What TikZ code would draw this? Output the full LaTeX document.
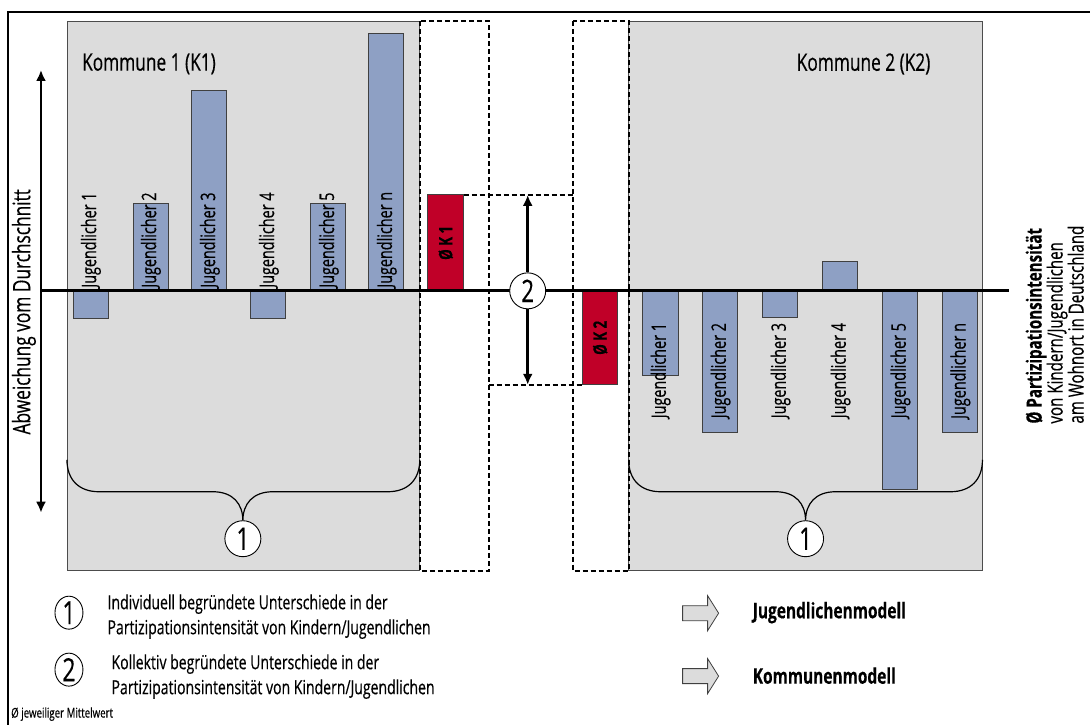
\documentclass[tikz,border=0pt]{standalone}
\usepackage{fontspec}
\setmainfont{Open Sans}[FakeStretch=0.72,FakeBold=0.4]
\usetikzlibrary{arrows.meta}
\usetikzlibrary{positioning}
\usetikzlibrary{shapes.geometric}

\definecolor{boxgray}{RGB}{220,220,220}
\definecolor{barblue}{RGB}{142,160,196}
\definecolor{barred}{RGB}{192,0,40}

\begin{document}
\begin{tikzpicture}[x=1pt,y=-1pt,
	kommune/.style={draw=black!70,fill=boxgray,line width=0.8pt},
	rahmen/.style={draw=black,line width=2pt,dash pattern=on 5pt off 3pt},
	balken/.style={draw=black!75,fill=barblue,line width=0.8pt},
	mittel/.style={draw=black!75,fill=barred,line width=0.8pt},
	jug/.style={rotate=90,inner sep=0pt,font=\fontsize{20}{22}\selectfont},
	mlabel/.style={rotate=90,inner sep=0pt,font=\fontsize{18.5}{20}\selectfont\bfseries},
	titel/.style={anchor=west,inner sep=0pt,font=\fontsize{24}{28}\selectfont},
	nummer/.style={circle,draw,fill=white,line width=0.9pt,minimum size=36pt,inner sep=0pt,font=\fontsize{31}{31}\selectfont},
	legnum/.style={ellipse,draw,fill=white,line width=0.9pt,minimum width=28pt,minimum height=33pt,inner sep=0pt,font=\fontsize{32}{32}\selectfont},
	legtext/.style={anchor=west,align=left,inner sep=0pt,font=\fontsize{19.5}{25}\selectfont},
	pfeil/.style={line width=2.5pt,-{Latex[length=11pt,width=10pt]}},
	klammer/.style={draw=black,line width=1.2pt},
	modell/.style={draw=black!75,fill=boxgray,line width=0.8pt}]

	% frame
	\draw[line width=1.2pt] (8,725) -- (8,12) -- (1091,12);
	\useasboundingbox (0,0) rectangle (1091,725);

	% Kommunen
	\draw[kommune] (67,21) rectangle (420,571);
	\draw[kommune] (629,21) rectangle (983,571);
	\draw[rahmen] (420,21) rectangle (489,571);
	\draw[rahmen] (573,21) rectangle (629,571);
	\draw[rahmen] (464,195) -- (573,195);
	\draw[rahmen] (489,385) -- (583,385);

	\node[titel] (T1) at (82,64) {Kommune 1 (K1)};
	\node[titel] (T2) at (797,64) {Kommune 2 (K2)};

	% Jugendliche K1
	\draw[balken] (73,291) rectangle (108,319);
	\draw[balken] (133,204) rectangle (168,291);
	\draw[balken] (192,90) rectangle (227,291);
	\draw[balken] (251,291) rectangle (286,319);
	\draw[balken] (311,204) rectangle (346,291);
	\draw[balken] (369,33) rectangle (404,291);
	\node[jug,anchor=west] (a1) at (91,288) {Jugendlicher 1};
	\node[jug,anchor=west] (a2) at (151,288) {Jugendlicher 2};
	\node[jug,anchor=west] (a3) at (210,288) {Jugendlicher 3};
	\node[jug,anchor=west] (a4) at (269,288) {Jugendlicher 4};
	\node[jug,anchor=west] (a5) at (329,288) {Jugendlicher 5};
	\node[jug,anchor=west] (an) at (387,288) {Jugendlicher n};

	% Jugendliche K2
	\draw[balken] (643,291) rectangle (679,376);
	\draw[balken] (703,291) rectangle (738,433);
	\draw[balken] (763,291) rectangle (798,318);
	\draw[balken] (823,262) rectangle (858,291);
	\draw[balken] (883,291) rectangle (918,490);
	\draw[balken] (943,291) rectangle (978,433);
	\node[jug,anchor=east] (b1) at (661,323) {Jugendlicher 1};
	\node[jug,anchor=east] (b2) at (721,323) {Jugendlicher 2};
	\node[jug,anchor=east] (b3) at (781,323) {Jugendlicher 3};
	\node[jug,anchor=east] (b4) at (841,323) {Jugendlicher 4};
	\node[jug,anchor=east] (b5) at (901,323) {Jugendlicher 5};
	\node[jug,anchor=east] (bn) at (961,323) {Jugendlicher n};

	% Mittelwerte
	\draw[mittel] (428,195) rectangle (464,291);
	\draw[mittel] (583,291) rectangle (618,385);
	\node[mlabel] (m1) at (446,243) {Ø K 1};
	\node[mlabel] (m2) at (600.5,338) {Ø K 2};

	% Klammern
	\draw[klammer] (67,460) .. controls (67,480) and (79,492) .. (99,492) -- (213,492)
		.. controls (233,492) and (243,504) .. (243,521) .. controls (243,504) and (253,492) .. (273,492)
		-- (388,492) .. controls (408,492) and (420,480) .. (420,460);
	\draw[klammer] (629,460) .. controls (629,480) and (641,492) .. (661,492) -- (776,492)
		.. controls (796,492) and (806,504) .. (806,521) .. controls (806,504) and (816,492) .. (836,492)
		-- (951,492) .. controls (971,492) and (983,480) .. (983,460);
	\node[nummer] (e1) at (243,539) {1};
	\node[nummer] (e2) at (806,539) {1};

	% Achsen
	\coordinate (x0) at (41,291);
	\coordinate (x1) at (1010,291);
	\coordinate (ytop) at (41,70);
	\coordinate (ybot) at (41,513);
	\draw[line width=3pt] (x0) -- (x1);
	\draw[line width=2.5pt,{Latex[length=11pt,width=10pt]}-{Latex[length=11pt,width=10pt]}] (ybot) -- (ytop);
	\node[rotate=90,inner sep=0pt,font=\fontsize{24}{28}\selectfont] (yl) at (24,312) {Abweichung vom Durchschnitt};

	% Kollektiv
	\coordinate (k1top) at (528,195);
	\coordinate (k2bot) at (528,385);
	\node[nummer] (z) at (528,291) {2};
	\draw[pfeil] (z) -- (k1top);
	\draw[pfeil] (z) -- (k2bot);

	\node[rotate=90,anchor=north west,align=left,inner sep=0pt,font=\fontsize{21}{21}\selectfont] (pi) at (1026,424)
		{\textbf{Ø Partizipationsintensität}\\von Kindern/Jugendlichen\\am Wohnort in Deutschland};

	% Legende
	\node[legnum] (L1) at (69,613) {1};
	\node[legnum] (L2) at (69,670) {2};
	\node[legtext,right=24pt of L1,yshift=-4pt] (L1t) {Individuell begründete Unterschiede in der\\Partizipationsintensität von Kindern/Jugendlichen};
	\node[legtext,right=28pt of L2,yshift=-7pt] (L2t) {Kollektiv begründete Unterschiede in der\\Partizipationsintensität von Kindern/Jugendlichen};

	\draw[modell] (683,606) -- (708,606) -- (708,596) -- (719,613.5) -- (708,631) -- (708,621) -- (683,621) -- cycle;
	\draw[modell] (683,669) -- (708,669) -- (708,659) -- (719,676.5) -- (708,694) -- (708,684) -- (683,684) -- cycle;
	\node[anchor=west,inner sep=0pt,font=\fontsize{21.5}{24}\selectfont\bfseries] (jm) at (753,613) {Jugendlichenmodell};
	\node[anchor=west,inner sep=0pt,font=\fontsize{21.5}{24}\selectfont\bfseries] (km) at (753,676) {Kommunenmodell};

	\node[anchor=base west,inner sep=0pt,font=\fontsize{13.5}{15}\selectfont] (mw) at (11,718) {Ø jeweiliger Mittelwert};
\end{tikzpicture}
\end{document}
